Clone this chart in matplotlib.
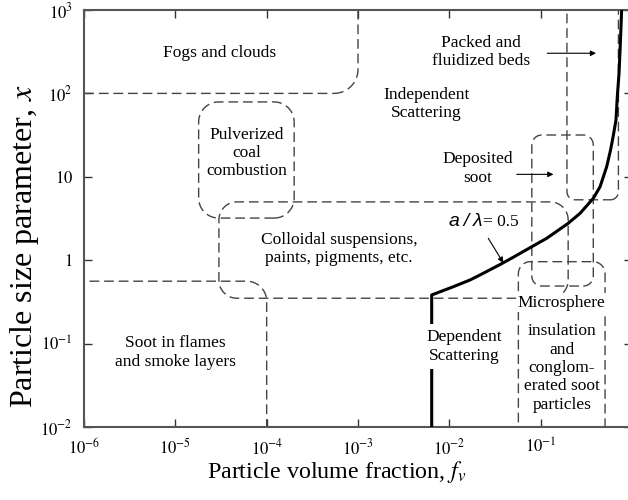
import numpy as np
import matplotlib
matplotlib.use("Agg")
import matplotlib.pyplot as plt
from matplotlib.ticker import NullLocator

plt.rcParams['font.family'] = ['Liberation Serif', 'DejaVu Serif']
plt.rcParams['mathtext.fontset'] = 'stix'

# boundary a/lambda = 0.5 between independent and dependent scattering
curve_fv = [0.00641, 0.00641, 0.01107, 0.01683, 0.02166, 0.0359, 0.0502, 0.0798, 0.1164,
            0.2003, 0.270, 0.377, 0.447, 0.528, 0.582, 0.62, 0.668, 0.69, 0.721, 0.740,
            0.753, 0.77]
curve_x = [0.01, 0.383, 0.481, 0.579, 0.665, 0.887, 1.086, 1.45, 1.83,
           2.77, 3.65, 5.52, 7.6, 13.2, 20.9, 30.0, 48.0, 91.0, 174.0, 331.0,
           526.0, 1000.0]

# particle systems (volume fraction range, size parameter range)
region_names = ['fogs', 'coal', 'colloids', 'soot', 'beds', 'deposited', 'microspheres']
region_fv_lo = [1e-7, 1.8e-5, 3.0e-5, 1e-7, 0.194, 0.08, 0.057]
region_fv_hi = [1e-3, 2.0e-4, 0.2, 1e-4, 0.71, 0.377, 0.507]
region_x_lo = [100.0, 3.2, 0.35, 1e-3, 5.3, 0.49, 1e-3]
region_x_hi = [1e4, 79.0, 5.0, 0.56, 1e4, 31.7, 0.96]

xticks = [1e-6, 1e-5, 1e-4, 1e-3, 1e-2, 1e-1]
xtick_labels = [r'$10^{-6}$', r'$10^{-5}$', r'$10^{-4}$', r'$10^{-3}$', r'$10^{-2}$', r'$10^{-1}$']
yticks = [1e-2, 1e-1, 1, 10, 1e2, 1e3]
ytick_labels = [r'$10^{-2}$', r'$10^{-1}$', r'$1$', r'$10$', r'$10^{2}$', r'$10^{3}$']

W, H = 628, 500
fig = plt.figure(figsize=(W / 100, H / 100), dpi=100)
# right spine sits just past the edge of the canvas
ax = fig.add_axes([84 / W, 73 / H, 548 / W, 417 / H])
ax.set_xscale('log')
ax.set_yscale('log')
ax.set_xlim(1e-6, 1)
ax.set_ylim(1e-2, 1e3)

px_dec_x = 548 / 6
px_dec_y = 417 / 5
radius_px = [24, 20, 18, 20, 8, 10, 12]


def rounded_box(fv0, fv1, x0, x1, r):
    lx0, lx1, ly0, ly1 = np.log10([fv0, fv1, x0, x1])
    rx, ry = r / px_dec_x, r / px_dec_y
    t = np.linspace(0, np.pi / 2, 15)
    xs, ys = [], []
    # corners counter-clockwise starting bottom-right
    for cx, cy, a0 in [(lx1 - rx, ly0 + ry, -np.pi / 2), (lx1 - rx, ly1 - ry, 0),
                       (lx0 + rx, ly1 - ry, np.pi / 2), (lx0 + rx, ly0 + ry, np.pi)]:
        xs.extend(cx + rx * np.cos(a0 + t))
        ys.extend(cy + ry * np.sin(a0 + t))
    xs.append(xs[0])
    ys.append(ys[0])
    return 10 ** np.array(xs), 10 ** np.array(ys)


for i in range(len(region_names)):
    bx, by = rounded_box(region_fv_lo[i], region_fv_hi[i], region_x_lo[i], region_x_hi[i], radius_px[i])
    ax.plot(bx, by, color='#444444', lw=1.0, dashes=(7, 3.5), zorder=2)

ax.plot(curve_fv, curve_x, color='black', lw=2.2, zorder=3, solid_capstyle='butt',
        solid_joinstyle='round')

fs = 12.5
ax.text(3.08e-5, 308, 'Fogs and clouds', fontsize=fs, ha='center', va='center')
ax.text(6.0e-5, 19.3, 'Pulverized\ncoal\ncombustion', fontsize=fs, ha='center', va='center')
ax.text(6.2e-4, 1.36, 'Colloidal suspensions,\npaints, pigments, etc.', fontsize=fs,
        ha='center', va='center')
ax.text(1e-5, 0.078, 'Soot in flames\nand smoke layers', fontsize=fs, ha='center', va='center')
ax.text(0.0221, 316, 'Packed and\nfluidized beds', fontsize=fs, ha='center', va='center')
ax.text(0.00556, 75, 'Independent\nScattering', fontsize=fs, ha='center', va='center')
ax.text(0.0205, 12.6, 'Deposited\nsoot', fontsize=fs, ha='center', va='center')
ax.text(0.0145, 0.092, 'Dependent\nScattering', fontsize=fs, ha='center', va='center', zorder=5,
        bbox=dict(facecolor='white', edgecolor='none', pad=4))
ax.text(0.17, 0.309, 'Microsphere', fontsize=fs, ha='center', va='center', zorder=5,
        bbox=dict(facecolor='white', edgecolor='none', pad=1))
ax.text(0.17, 0.051, 'insulation\nand\nconglom-\nerated soot\nparticles', fontsize=fs,
        ha='center', va='center', zorder=5)

ax.text(0.0232, 2.9, 'a\u2009/\u2009λ', fontsize=14, ha='right', va='center',
        family=['Liberation Sans', 'DejaVu Sans'], style='italic')
ax.text(0.0235, 2.9, '= 0.5', fontsize=12.5, ha='left', va='center')

arrow = dict(arrowstyle='-|>', lw=0.8, color='black', mutation_scale=8, shrinkA=0, shrinkB=0)
ax.annotate('', xy=(0.404, 303), xytext=(0.118, 303), arrowprops=arrow)
ax.annotate('', xy=(0.138, 10.7), xytext=(0.0547, 10.7), arrowprops=arrow)
ax.annotate('', xy=(0.039, 0.93), xytext=(0.0267, 1.83), arrowprops=arrow)

ax.set_xticks(xticks)
ax.set_xticklabels(xtick_labels)
ax.set_yticks(yticks)
ax.set_yticklabels(ytick_labels)
ax.xaxis.set_minor_locator(NullLocator())
ax.yaxis.set_minor_locator(NullLocator())
ax.tick_params(direction='in', top=True, right=True, length=6, width=1,
               labelsize=12, pad=8, color='#333333')
for s in ax.spines.values():
    s.set_color('#555555')
    s.set_linewidth(1.5)

fig.text(336.5 / W, 1 - 472 / H, r'Particle volume fraction, $f_v$', fontsize=17.3,
         ha='center', va='center')
fig.text(25 / W, 1 - 246 / H, r'Particle size parameter, $x$', fontsize=23,
         ha='center', va='center', rotation=90)

fig.savefig('out.png', dpi=100)
